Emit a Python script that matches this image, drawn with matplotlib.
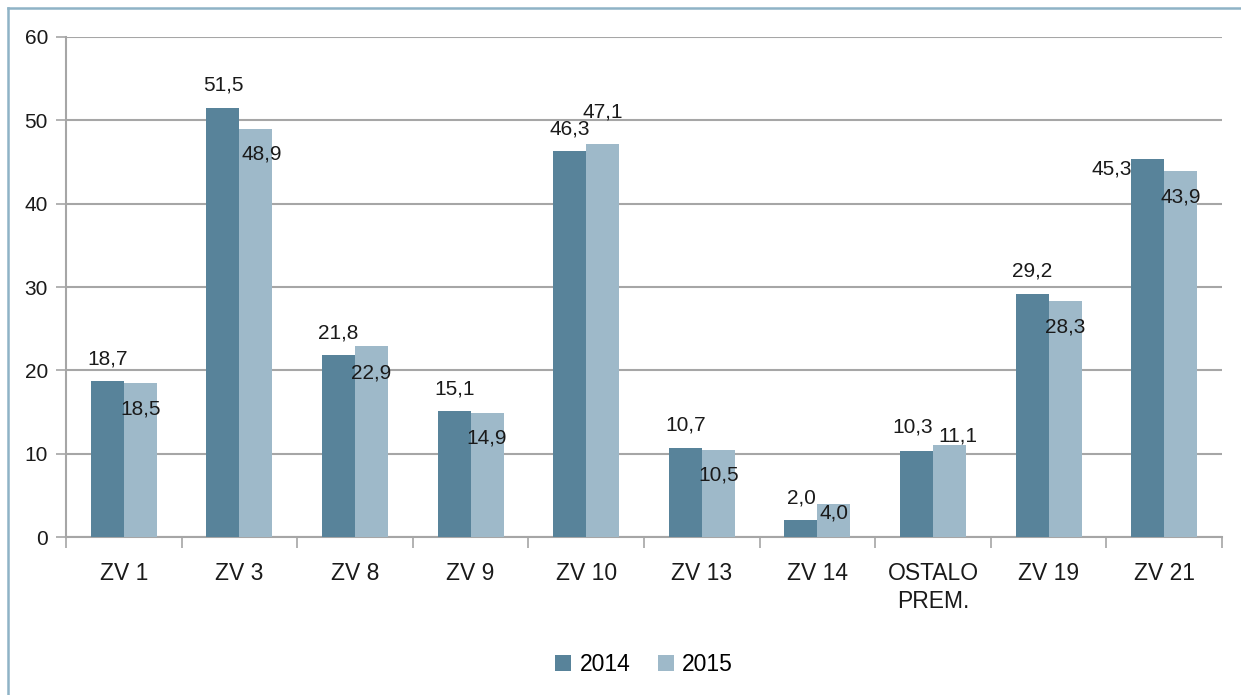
import matplotlib.pyplot as plt
from matplotlib.lines import Line2D
import numpy as np

plt.rcParams['font.family'] = ['Liberation Sans', 'DejaVu Sans']

categories = ['ZV 1', 'ZV 3', 'ZV 8', 'ZV 9', 'ZV 10', 'ZV 13', 'ZV 14',
              'OSTALO\nPREM.', 'ZV 19', 'ZV 21']
vals_2014 = [18.7, 51.5, 21.8, 15.1, 46.3, 10.7, 2.0, 10.3, 29.2, 45.3]
vals_2015 = [18.5, 48.9, 22.9, 14.9, 47.1, 10.5, 4.0, 11.1, 28.3, 43.9]
series_names = ['2014', '2015']
yticks = [0, 10, 20, 30, 40, 50, 60]

# label nudges (data units) where the original labels were moved by hand
dy_2014 = [2.7] * 7 + [2.9, 2.7, -1.2]
dx_2014 = [0] * 7 + [-0.03, 0, -0.31]
dx_2015 = [0, 0.05, 0, 0, 0, 0, 0, 0.07, 0, 0]
dy_2015 = [-3.1, -3.0, -3.2, -3.0, 3.9, -3.1, -1.1, 1.0, -3.1, -3.1]

c14 = '#58839A'
c15 = '#9EB9C9'
txt = '#1a1a1a'

fig = plt.figure(figsize=(12.41, 6.95), dpi=100)
ax = fig.add_axes([0.0532, 0.2273, 0.9315, 0.7195])

x = np.arange(len(categories))
w = 0.285
ax.bar(x - w / 2, vals_2014, w, color=c14, label=series_names[0], zorder=3)
ax.bar(x + w / 2, vals_2015, w, color=c15, label=series_names[1], zorder=3)

for i in range(len(categories)):
    ax.text(x[i] - w / 2 + dx_2014[i], vals_2014[i] + dy_2014[i],
            f'{vals_2014[i]:.1f}'.replace('.', ','), ha='center', va='center',
            fontsize=15, color=txt, zorder=4)
    ax.text(x[i] + w / 2 + dx_2015[i], vals_2015[i] + dy_2015[i],
            f'{vals_2015[i]:.1f}'.replace('.', ','), ha='center', va='center',
            fontsize=15, color=txt, zorder=4)

ax.set_xlim(-0.5, len(categories) - 0.5)
ax.set_ylim(0, 60)
ax.set_yticks(yticks)
ax.set_yticklabels([str(t) for t in yticks], fontsize=15, color=txt)
ax.grid(axis='y', color='#a6a6a6', linewidth=1.5, zorder=0)

ax.set_xticks(x)
ax.set_xticklabels(categories, fontsize=16.5, color=txt, linespacing=1.25)
ax.tick_params(axis='x', length=0, pad=18)
ax.set_xticks(np.arange(-0.5, len(categories)), minor=True)
ax.tick_params(axis='x', which='minor', length=8, width=1.2, color='#a6a6a6')
ax.tick_params(axis='y', length=7, width=1.2, color='#a6a6a6', pad=6)

for s in ['top', 'right']:
    ax.spines[s].set_visible(False)
for s in ['left', 'bottom']:
    ax.spines[s].set_color('#a6a6a6')
    ax.spines[s].set_linewidth(1.5)

ax.legend(loc='center', bbox_to_anchor=(0.5, -0.255), ncol=2, frameon=False,
          fontsize=16.5, handlelength=0.7, handleheight=0.7, handletextpad=0.35,
          columnspacing=1.2)

# outer frame lines (top and left only, as in the source image)
fig.add_artist(Line2D([8 / 1241, 1], [1 - 8 / 695, 1 - 8 / 695],
                      transform=fig.transFigure, color='#8fb3c6', linewidth=1.8))
fig.add_artist(Line2D([8 / 1241, 8 / 1241], [0, 1 - 8 / 695],
                      transform=fig.transFigure, color='#8fb3c6', linewidth=1.8))

fig.savefig('out.png', dpi=100)
